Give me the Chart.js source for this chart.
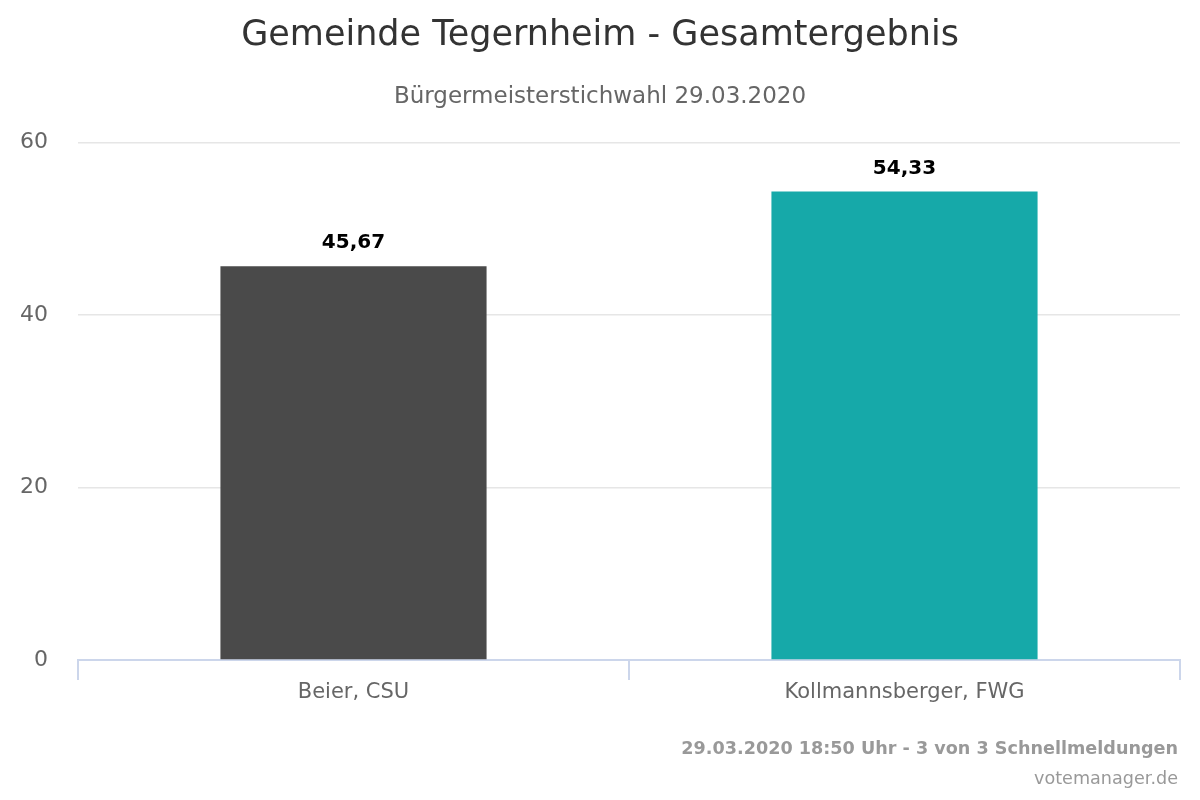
<!DOCTYPE html>
<html>
<head>
<meta charset="utf-8">
<script src="https://cdn.jsdelivr.net/npm/chart.js@4"></script>
<style>
  html, body { margin: 0; padding: 0; background: #fff; }
  #wrap { position: relative; width: 1200px; height: 800px; }
  canvas { display: block; }
  .credits { position: absolute; right: 22px; font-family: "DejaVu Sans", sans-serif; font-size: 17.6px; line-height: 22px; color: #999; }
  #credit1 { top: 737px; font-weight: bold; }
  #credit2 { top: 767px; }
</style>
</head>
<body>
<div id="wrap">
  <canvas id="chart" width="1200" height="800"></canvas>
  <div class="credits" id="credit1">29.03.2020 18:50 Uhr - 3 von 3 Schnellmeldungen</div>
  <div class="credits" id="credit2">votemanager.de</div>
</div>
<script>
const kandidaten = ['Beier, CSU', 'Kollmannsberger, FWG'];
const prozente = [45.67, 54.33];
const farben = ['#4a4a4a', '#16a9a9'];
const yTicks = [0, 20, 40, 60];

const fontFamily = '"DejaVu Sans", sans-serif';

// Werte über den Balken
const wertLabels = {
    id: 'wertLabels',
    afterDatasetsDraw(chart) {
        const ctx = chart.ctx;
        const meta = chart.getDatasetMeta(0);
        ctx.save();
        ctx.font = 'bold 20px ' + fontFamily;
        ctx.fillStyle = '#000';
        ctx.textAlign = 'center';
        ctx.textBaseline = 'middle';
        meta.data.forEach((bar, i) => {
            let text = prozente[i].toLocaleString('de-DE', { minimumFractionDigits: 2 });
            ctx.fillText(text, bar.x, bar.y - 23);
        });
        ctx.restore();
    }
};

new Chart('chart', {
    type: 'bar',
    data: {
        labels: kandidaten,
        datasets: [{
            data: prozente,
            backgroundColor: farben,
            borderWidth: 0,
            categoryPercentage: 1,
            barPercentage: 0.483
        }]
    },
    options: {
        responsive: false,
        animation: false,
        layout: {
            padding: { top: 15, left: 20, right: 20, bottom: 95 }
        },
        plugins: {
            legend: { display: false },
            tooltip: { enabled: false },
            title: {
                display: true,
                text: 'Gemeinde Tegernheim - Gesamtergebnis',
                color: '#333333',
                font: { family: fontFamily, size: 35, weight: 'normal' },
                padding: { top: 0, bottom: 26 }
            },
            subtitle: {
                display: true,
                text: 'Bürgermeisterstichwahl 29.03.2020',
                color: '#666666',
                font: { family: fontFamily, size: 23, weight: 'normal' },
                padding: { top: 0, bottom: 32 }
            }
        },
        scales: {
            x: {
                offset: true,
                border: { color: '#ccd6eb', width: 2 },
                grid: {
                    offset: true,
                    drawOnChartArea: false,
                    drawTicks: true,
                    tickLength: 20,
                    color: '#ccd6eb',
                    lineWidth: 2
                },
                ticks: {
                    color: '#666666',
                    font: { family: fontFamily, size: 21 },
                    padding: 0
                },
                afterFit(axis) {
                    axis.height = 45;
                }
            },
            y: {
                min: 0,
                max: 60,
                afterBuildTicks(axis) {
                    axis.ticks = yTicks.map(v => ({ value: v }));
                },
                afterFit(axis) {
                    axis.width = 58;
                },
                border: { display: false },
                grid: { color: '#e6e6e6', drawTicks: false, lineWidth: 1.5 },
                ticks: {
                    color: '#666666',
                    font: { family: fontFamily, size: 22 },
                    padding: 30
                }
            }
        }
    },
    plugins: [wertLabels]
});
</script>
</body>
</html>
